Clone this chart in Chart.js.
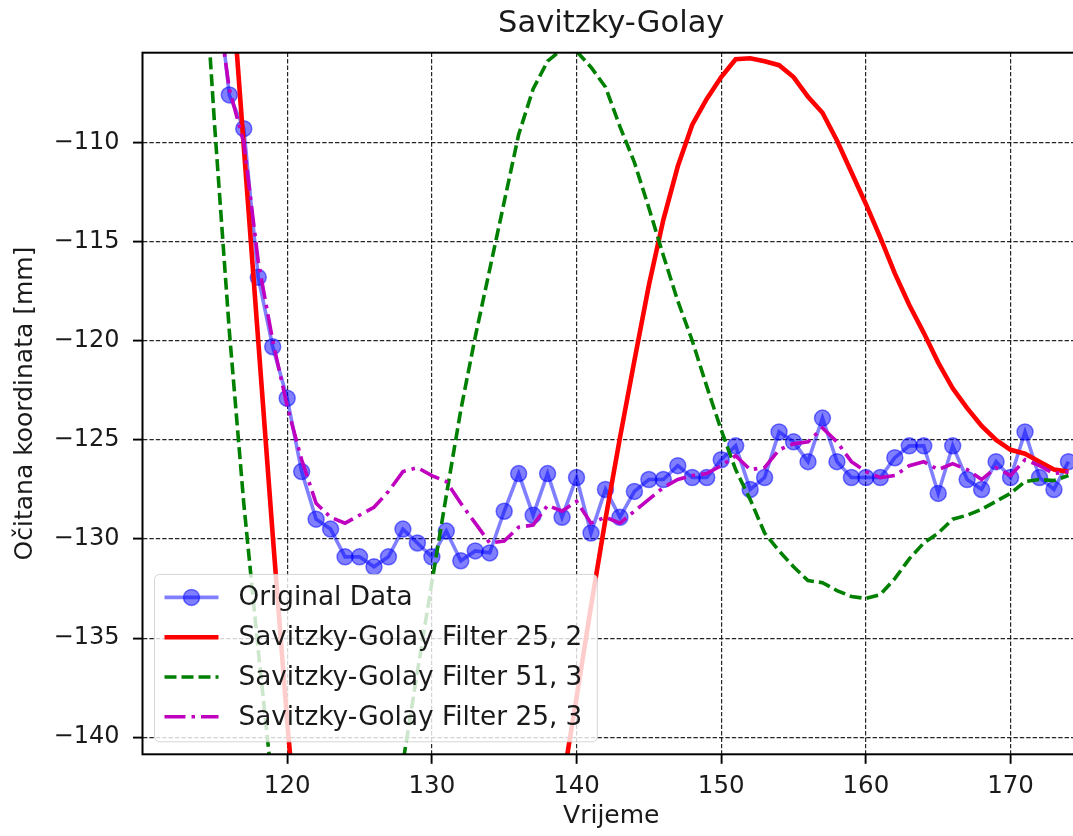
<!DOCTYPE html>
<html>
<head>
<meta charset="utf-8">
<title>Savitzky-Golay</title>
<script src="https://cdn.jsdelivr.net/npm/chart.js@4.4.1/dist/chart.umd.min.js"></script>
<style>
  html, body { margin: 0; padding: 0; background: #fff; overflow: hidden; }
  canvas { display: block; }
</style>
</head>
<body>
<canvas id="sgChart" width="1082" height="836"></canvas>
<script>
// Sample times (x axis)
const time = [
  114, 115, 116, 117, 118, 119, 120, 121, 122, 123,
  124, 125, 126, 127, 128, 129, 130, 131, 132, 133,
  134, 135, 136, 137, 138, 139, 140, 141, 142, 143,
  144, 145, 146, 147, 148, 149, 150, 151, 152, 153,
  154, 155, 156, 157, 158, 159, 160, 161, 162, 163,
  164, 165, 166, 167, 168, 169, 170, 171, 172, 173,
  174
];

// Raw readings [mm]
const original = [
  -94.0, -101.0, -107.6, -109.3, -116.8, -120.3, -122.9, -126.6, -129.0, -129.5,
  -130.9, -130.9, -131.4, -130.9, -129.5, -130.2, -130.9, -129.6, -131.1, -130.6,
  -130.7, -128.6, -126.7, -128.8, -126.7, -128.9, -126.9, -129.7, -127.5, -128.9,
  -127.6, -127.0, -127.0, -126.3, -126.9, -126.9, -126.0, -125.3, -127.5, -126.9,
  -124.6, -125.1, -126.1, -123.9, -126.1, -126.9, -126.9, -126.9, -125.9, -125.3,
  -125.3, -127.7, -125.3, -127.0, -127.5, -126.1, -126.9, -124.6, -126.9, -127.5,
  -126.1
];

// Filter window 25, polyorder 2
const sg25p2 = [
  -80.5, -90.3, -100.3, -110.2, -120.0, -129.8, -139.2, -147.5, -154.5, -159.5,
  -163.0, -166.0, -168.0, -169.0, -169.5, -169.5, -169.0, -168.0, -166.5, -164.5,
  -162.0, -159.0, -155.5, -151.5, -147.0, -142.5, -138.0, -133.4, -129.0, -124.9,
  -121.0, -117.2, -113.9, -111.2, -109.1, -107.8, -106.7, -105.8, -105.75, -105.9,
  -106.1, -106.7, -107.7, -108.5, -109.9, -111.5, -113.1, -114.8, -116.6, -118.2,
  -119.6, -121.1, -122.4, -123.4, -124.3, -125.0, -125.5, -125.7, -126.1, -126.5,
  -126.6
];

// Filter window 51, polyorder 3
const sg51p3 = [
  -98.0, -109.3, -119.5, -128.2, -135.6, -142.6, -149.5, -154.5, -157.0, -157.5,
  -156.5, -154.0, -150.3, -145.9, -141.3, -136.7, -132.2, -127.8, -123.5, -119.8,
  -116.4, -113.0, -109.6, -107.3, -105.9, -105.3, -105.4, -106.2, -107.2, -109.2,
  -111.0, -113.3, -115.7, -118.0, -120.0, -122.3, -124.5, -126.5, -128.0, -129.7,
  -130.6, -131.4, -132.1, -132.2, -132.6, -132.9, -133.0, -132.8, -132.0, -131.0,
  -130.2, -129.7, -129.0, -128.8, -128.5, -128.1, -127.7, -127.1, -127.0, -127.05,
  -126.8
];

// Filter window 25, polyorder 3
const sg25p3 = [
  -95.0, -102.0, -107.3, -110.0, -116.0, -120.0, -123.3, -126.0, -128.2, -128.9,
  -129.2, -128.8, -128.4, -127.6, -126.6, -126.4, -126.8, -127.1, -128.2, -129.2,
  -130.2, -130.1, -129.4, -129.3, -128.3, -128.6, -128.1, -129.2, -128.9, -129.2,
  -128.6, -128.0, -127.4, -127.0, -126.8, -126.7, -126.3, -125.8, -126.5, -126.4,
  -125.5, -125.2, -125.1, -124.4, -125.1, -126.1, -126.6, -126.9, -126.8, -126.3,
  -126.1, -126.5, -126.2, -126.5, -127.0, -126.4, -126.8, -126.0, -126.3, -126.7,
  -126.6
];

const xTicks = [120, 130, 140, 150, 160, 170];
const yTicks = [-140, -135, -130, -125, -120, -115, -110];
const xLimits = [110, 174.8];
const yLimits = [-140.86, -105.47];

const FONT = '"DejaVu Sans", sans-serif';
const TEXT = '#1a1a1a';

const points = vals => time.map((t, i) => ({ x: t, y: vals[i] }));
const minusSign = v => (v < 0 ? '\u2212' + Math.abs(v) : String(v));

// axes frame + legend box inside the plot, drawn over the lines
const frameAndLegend = {
  id: 'frameAndLegend',
  afterDatasetsDraw(chart) {
    const { ctx, chartArea: a } = chart;
    ctx.save();

    ctx.strokeStyle = '#000';
    ctx.lineWidth = 2;
    ctx.setLineDash([]);
    ctx.strokeRect(a.left, a.top, a.right - a.left, a.bottom - a.top);

    const sets = chart.data.datasets;
    ctx.font = '26.3px ' + FONT;
    const textW = Math.max(...sets.map(d => ctx.measureText(d.label).width));
    const rowH = 39.8;
    const left = a.left + 12;
    const bottom = a.bottom - 12.5;
    const h = 23 + rowH * (sets.length - 1) + 25;
    const top = bottom - h;
    const w = 84 + textW + 15;

    ctx.beginPath();
    ctx.roundRect(left, top, w, h, 5);
    ctx.fillStyle = 'rgba(255,255,255,0.8)';
    ctx.fill();
    ctx.strokeStyle = 'rgba(204,204,204,0.8)';
    ctx.lineWidth = 1;
    ctx.stroke();

    sets.forEach((d, i) => {
      const y = top + 23 + i * rowH;
      ctx.setLineDash(d.borderDash || []);
      ctx.strokeStyle = d.borderColor;
      ctx.lineWidth = d.borderWidth;
      ctx.beginPath();
      ctx.moveTo(left + 10, y);
      ctx.lineTo(left + 64, y);
      ctx.stroke();
      ctx.setLineDash([]);
      if (d.pointRadius) {
        ctx.beginPath();
        ctx.arc(left + 37, y, d.pointRadius, 0, Math.PI * 2);
        ctx.fillStyle = d.pointBackgroundColor;
        ctx.fill();
        ctx.lineWidth = d.pointBorderWidth;
        ctx.strokeStyle = d.pointBorderColor;
        ctx.stroke();
      }
      ctx.fillStyle = TEXT;
      ctx.textAlign = 'left';
      ctx.textBaseline = 'middle';
      ctx.fillText(d.label, left + 84, y + 1);
    });
    ctx.restore();
  }
};

// fixed axis box sizes, no extra edge padding from tick labels
const fixX = axis => {
  axis.height = 81.7;
  axis.paddingLeft = 0;
  axis.paddingRight = 0;
};
const fixY = axis => {
  axis.width = 142.5;
  axis.paddingTop = 0;
  axis.paddingBottom = 0;
};

const ctx = document.getElementById('sgChart').getContext('2d');
const sgChart = new Chart(ctx, {
  type: 'line',
  data: {
    datasets: [
      {
        label: 'Original Data',
        data: points(original),
        borderColor: 'rgba(0,0,255,0.5)',
        borderWidth: 3.6,
        pointRadius: 8,
        pointBackgroundColor: 'rgba(0,0,255,0.5)',
        pointBorderColor: 'rgba(0,0,255,0.5)',
        pointBorderWidth: 1.5,
        tension: 0,
        clip: 0,
        order: 4
      },
      {
        label: 'Savitzky-Golay Filter 25, 2',
        data: points(sg25p2),
        borderColor: '#ff0000',
        borderWidth: 4.6,
        pointRadius: 0,
        tension: 0,
        clip: 0,
        order: 3
      },
      {
        label: 'Savitzky-Golay Filter 51, 3',
        data: points(sg51p3),
        borderColor: '#008000',
        borderWidth: 3.6,
        borderDash: [12, 5],
        pointRadius: 0,
        tension: 0,
        clip: 0,
        order: 2
      },
      {
        label: 'Savitzky-Golay Filter 25, 3',
        data: points(sg25p3),
        borderColor: '#bf00bf',
        borderWidth: 3.6,
        borderDash: [21, 6, 3.5, 6],
        pointRadius: 0,
        tension: 0,
        clip: 0,
        order: 1
      }
    ]
  },
  options: {
    responsive: false,
    devicePixelRatio: 1,
    animation: false,
    events: [],
    layout: { autoPadding: false, padding: { left: 0, right: 2, top: 0, bottom: 0 } },
    plugins: {
      legend: { display: false },
      tooltip: { enabled: false },
      title: {
        display: true,
        text: 'Savitzky-Golay',
        fullSize: false,
        color: TEXT,
        font: { family: FONT, size: 30.5, weight: 'normal', lineHeight: 1.2 },
        padding: { top: 5.5, bottom: 10.6 }
      }
    },
    scales: {
      x: {
        type: 'linear',
        min: xLimits[0],
        max: xLimits[1],
        afterBuildTicks: axis => { axis.ticks = xTicks.map(v => ({ value: v })); },
        afterFit: fixX,
        ticks: {
          color: TEXT,
          font: { family: FONT, size: 24.5 },
          padding: 8.2,
          maxRotation: 0,
          callback: v => minusSign(v)
        },
        grid: {
          color: 'rgba(0,0,0,0.85)',
          lineWidth: 1.2,
          tickColor: '#000',
          tickWidth: 1.9,
          tickLength: 9.5,
          tickBorderDash: []
        },
        border: { display: false, dash: [4.4, 2] },
        title: {
          display: true,
          text: 'Vrijeme',
          color: TEXT,
          font: { family: FONT, size: 25, lineHeight: 1.2 },
          padding: { top: 0, bottom: 4.3 }
        }
      },
      y: {
        type: 'linear',
        min: yLimits[0],
        max: yLimits[1],
        afterBuildTicks: axis => { axis.ticks = yTicks.map(v => ({ value: v })); },
        afterFit: fixY,
        ticks: {
          color: TEXT,
          font: { family: FONT, size: 24 },
          padding: 13.5,
          callback: v => minusSign(v)
        },
        grid: {
          color: 'rgba(0,0,0,0.85)',
          lineWidth: 1.2,
          tickColor: '#000',
          tickWidth: 1.9,
          tickLength: 9.5,
          tickBorderDash: []
        },
        border: { display: false, dash: [4.4, 2] },
        title: {
          display: true,
          text: 'Očitana koordinata [mm]',
          color: TEXT,
          font: { family: FONT, size: 25, lineHeight: 1.2 },
          padding: { top: 10.9, bottom: 0 }
        }
      }
    }
  },
  plugins: [frameAndLegend]
});
</script>
</body>
</html>
